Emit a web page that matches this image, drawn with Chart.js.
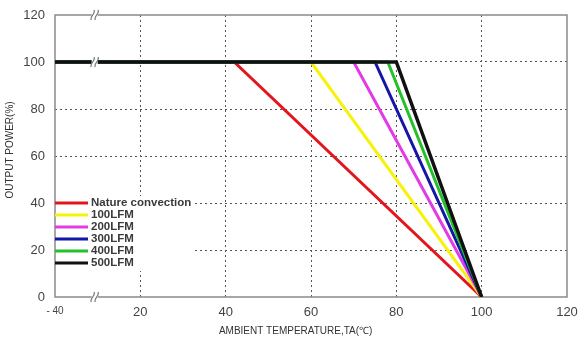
<!DOCTYPE html>
<html>
<head>
<meta charset="utf-8">
<script src="https://cdn.jsdelivr.net/npm/chart.js@4.4.0/dist/chart.umd.min.js"></script>
<style>
  html, body { margin: 0; padding: 0; background: #fff; }
  #wrap { width: 581px; height: 339px; }
</style>
</head>
<body>
<div id="wrap"><canvas id="derating" width="581" height="339"></canvas></div>
<script>
// derating curves: flat at full power, then straight down to 0% at 100
const seriesNames = ['Nature convection', '100LFM', '200LFM', '300LFM', '400LFM', '500LFM'];
const kneeTemps = [42, 60, 70, 75, 78, 80];
const fullPower = [100, 100, 100, 100, 100, 100];
const endTemp = 100;
const lineColors = ['#e3161d', '#f7f20a', '#e23ae6', '#1515a8', '#25c12c', '#111111'];
const xTicks = [0, 20, 40, 60, 80, 100, 120];
const xTickLabels = ['- 40', '20', '40', '60', '80', '100', '120'];
const yTicks = [0, 20, 40, 60, 80, 100, 120];

const datasets = seriesNames.map((name, i) => ({
    label: name,
    data: [
        { x: 0, y: fullPower[i] },
        { x: kneeTemps[i], y: fullPower[i] },
        { x: endTemp, y: 0 }
    ],
    borderColor: lineColors[i],
    backgroundColor: lineColors[i],
    borderWidth: i === 5 ? 3.5 : 3,
    pointRadius: 0,
    tension: 0,
    order: seriesNames.length - i
}));

// plot frame, broken-axis marks, in-plot legend and axis titles
const decor = {
    id: 'decor',
    beforeDatasetsDraw(chart) {
        const { ctx, chartArea: a } = chart;
        ctx.save();
        ctx.strokeStyle = '#8a8a8a';
        ctx.lineWidth = 1.5;
        ctx.strokeRect(a.left, a.top, a.right - a.left, a.bottom - a.top);
        ctx.restore();
    },
    afterDatasetsDraw(chart) {
        const { ctx, chartArea: a, scales } = chart;
        const xs = scales.x, ys = scales.y;
        ctx.save();

        // axis break marks
        const bx = xs.getPixelForValue(9.3);
        [120, 100, 0].forEach(v => {
            const by = ys.getPixelForValue(v);
            ctx.fillStyle = '#fff';
            ctx.fillRect(bx - 3, by - 3, 6, 6);
            ctx.strokeStyle = '#777';
            ctx.lineWidth = 1.2;
            [-2, 2].forEach(dx => {
                ctx.beginPath();
                ctx.moveTo(bx + dx - 1.5, by + 5);
                ctx.bezierCurveTo(bx + dx - 3, by + 1, bx + dx + 3, by - 1, bx + dx + 1.5, by - 5);
                ctx.stroke();
            });
        });

        // legend inside the plot, on white
        const lx = a.left;
        const ly = ys.getPixelForValue(40);
        const rowH = 12;
        ctx.fillStyle = '#fff';
        ctx.fillRect(lx + 1, ly - 7, 139, rowH * seriesNames.length + 3);
        ctx.font = 'bold 11.5px "Liberation Sans", Arial, sans-serif';
        ctx.textBaseline = 'middle';
        seriesNames.forEach((name, i) => {
            const y = ly + i * rowH;
            ctx.strokeStyle = lineColors[i];
            ctx.lineWidth = 3;
            ctx.beginPath();
            ctx.moveTo(lx, y);
            ctx.lineTo(lx + 33, y);
            ctx.stroke();
            ctx.fillStyle = '#3a3a3a';
            ctx.fillText(name, lx + 36, y);
        });

        // axis titles
        ctx.fillStyle = '#333';
        ctx.font = '10px "Liberation Sans", Arial, sans-serif';
        ctx.textAlign = 'center';
        ctx.textBaseline = 'middle';
        ctx.fillText('AMBIENT TEMPERATURE,TA(℃)', a.left + (a.right - a.left) * 0.47, chart.height - 8);
        ctx.translate(10, (a.top + a.bottom) / 2 - 6);
        ctx.rotate(-Math.PI / 2);
        ctx.fillText('OUTPUT POWER(%)', 0, 0);
        ctx.restore();
    }
};

// inner grid lines only; the frame is drawn by the plugin
const dotted = ctx => (ctx.tick && (ctx.tick.value === 0 || ctx.tick.value === 120)) ? 'rgba(0,0,0,0)' : '#555';

new Chart(document.getElementById('derating'), {
    type: 'line',
    data: { datasets },
    options: {
        responsive: false,
        animation: false,
        layout: { padding: { left: 0, right: 14, top: 15, bottom: 0 } },
        plugins: {
            legend: { display: false },
            tooltip: { enabled: false }
        },
        scales: {
            x: {
                type: 'linear',
                min: 0,
                max: 120,
                afterBuildTicks: s => { s.ticks = xTicks.map(v => ({ value: v })); },
                afterFit: s => {
                    s.height = 42;
                    s.paddingLeft = 0;
                    s.paddingRight = 0;
                },
                border: { display: false, dash: [2, 3] },
                grid: { color: dotted, lineWidth: 1, drawTicks: false },
                ticks: {
                    padding: 8,
                    color: '#444',
                    maxRotation: 0,
                    font: c => ({ size: c.tick && c.tick.value === 0 ? 10 : 13, family: '"Liberation Sans", Arial, sans-serif' }),
                    callback: v => xTickLabels[xTicks.indexOf(v)]
                }
            },
            y: {
                min: 0,
                max: 120,
                afterBuildTicks: s => { s.ticks = yTicks.map(v => ({ value: v })); },
                afterFit: s => {
                    s.width = 55;
                    s.paddingTop = 0;
                    s.paddingBottom = 0;
                },
                border: { display: false, dash: [2, 3] },
                grid: { color: dotted, lineWidth: 1, drawTicks: false },
                ticks: {
                    padding: 10,
                    color: '#444',
                    font: { size: 13, family: '"Liberation Sans", Arial, sans-serif' }
                }
            }
        }
    },
    plugins: [decor]
});
</script>
</body>
</html>
